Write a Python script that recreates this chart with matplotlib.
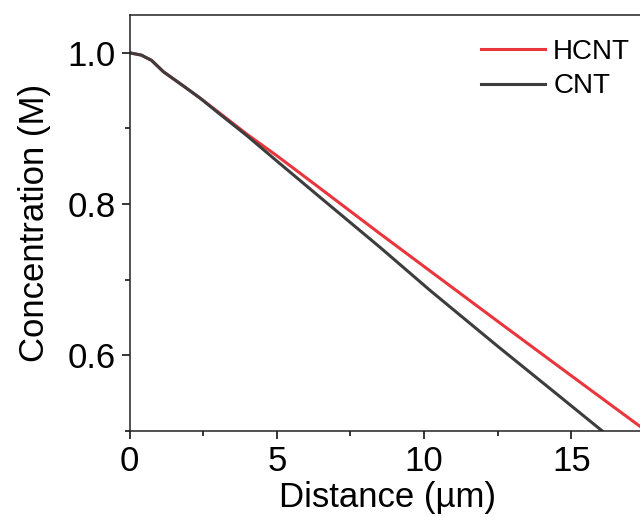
import matplotlib
matplotlib.use("Agg")
import matplotlib.pyplot as plt
from matplotlib.ticker import MultipleLocator

plt.rcParams["font.family"] = ["Liberation Sans", "DejaVu Sans"]

# values
hcnt_x = [0.0, 0.4, 0.75, 1.15, 1.8, 2.4, 3.07, 4.0, 5.0, 6.5, 8.5, 10.5, 12.5, 15.0, 17.3, 17.8]
hcnt_y = [1.0, 0.997, 0.990, 0.975, 0.957, 0.940, 0.920, 0.892, 0.864, 0.820, 0.761, 0.703, 0.645, 0.573, 0.507, 0.493]

cnt_x = [0.0, 0.4, 0.75, 1.15, 1.8, 2.4, 3.0, 4.0, 5.0, 6.5, 8.5, 10.2, 12.5, 14.5, 16.05]
cnt_y = [1.0, 0.997, 0.990, 0.975, 0.957, 0.940, 0.921, 0.890, 0.857, 0.808, 0.743, 0.686, 0.612, 0.549, 0.500]

fig = plt.figure(figsize=(6.4, 5.17), dpi=100)
# the original figure is cropped on the right, so the axes run a little past the edge
ax = fig.add_axes([129.5 / 640, 86 / 517, 515.5 / 640, 416 / 517])

ax.plot(hcnt_x, hcnt_y, color="#e8363c", lw=2.2, label="HCNT")
ax.plot(cnt_x, cnt_y, color="#3d3d3d", lw=2.2, label="CNT")

ax.set_xlim(0, 17.5)
ax.set_ylim(0.5, 1.05)
ax.xaxis.set_major_locator(MultipleLocator(5))
ax.xaxis.set_minor_locator(MultipleLocator(2.5))
ax.yaxis.set_major_locator(MultipleLocator(0.2))
ax.yaxis.set_minor_locator(MultipleLocator(0.1))
ax.yaxis.set_major_formatter(plt.FuncFormatter(lambda v, p: f"{v:.1f}"))

ax.tick_params(which="major", direction="out", length=6, width=1.1, labelsize=25, pad=4)
ax.tick_params(which="minor", direction="out", length=3.5, width=1.1)
for s in ax.spines.values():
    s.set_linewidth(1.1)
    s.set_color("#222222")

ax.set_xlabel("Distance (\u00b5m)", fontsize=25, labelpad=2)
ax.set_ylabel("Concentration (M)", fontsize=25, labelpad=12)

ax.legend(loc="upper left", bbox_to_anchor=(481 / 640, 1 - 39 / 517),
          bbox_transform=fig.transFigure, frameon=False, fontsize=20,
          handlelength=2.3, handletextpad=0.3, labelspacing=0.3,
          borderpad=0, borderaxespad=0)

fig.savefig("out.png", dpi=100)
